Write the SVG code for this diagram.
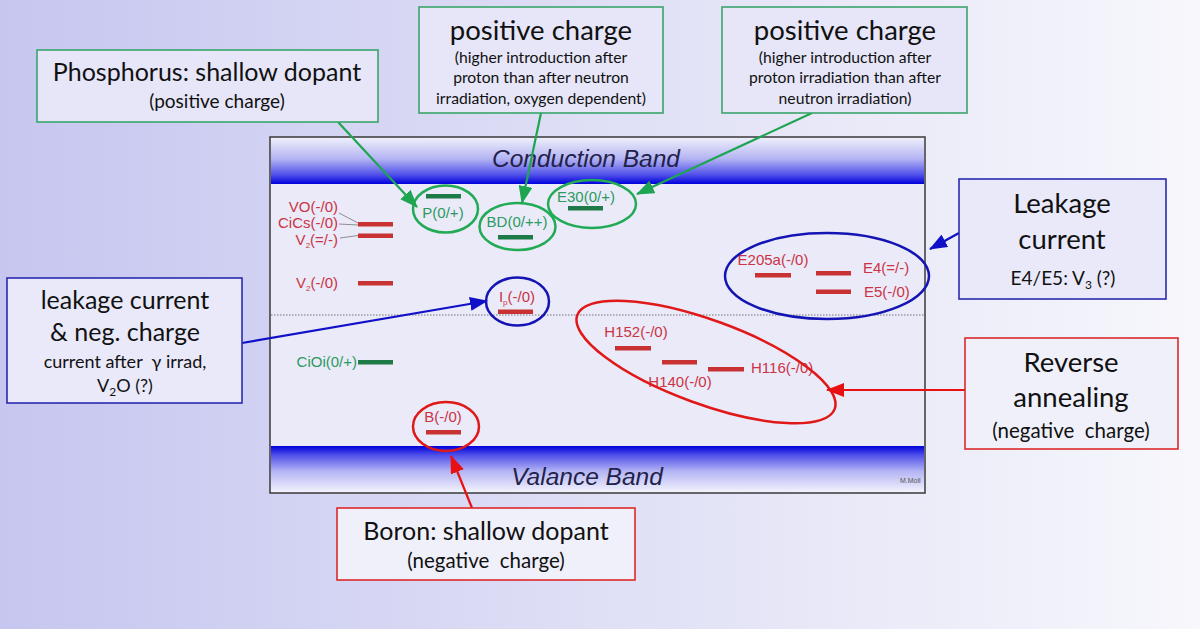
<svg xmlns="http://www.w3.org/2000/svg" width="1200" height="629" viewBox="0 0 1200 629">
<defs>
<linearGradient id="bg" x1="0" y1="0" x2="1" y2="0">
<stop offset="0" stop-color="#c6c6f0"/>
<stop offset="0.6" stop-color="#e4e4f7"/>
<stop offset="1" stop-color="#f7f7fc"/>
</linearGradient>
<linearGradient id="cb" x1="0" y1="0" x2="0" y2="1">
<stop offset="0" stop-color="#eeeefb"/>
<stop offset="0.45" stop-color="#b4b4f4"/>
<stop offset="0.8" stop-color="#5050ea"/>
<stop offset="1" stop-color="#0000dc"/>
</linearGradient>
<linearGradient id="vb" x1="0" y1="0" x2="0" y2="1">
<stop offset="0" stop-color="#0000dc"/>
<stop offset="0.2" stop-color="#5050ea"/>
<stop offset="0.55" stop-color="#b4b4f4"/>
<stop offset="1" stop-color="#f2f2fc"/>
</linearGradient>
<marker id="ag" markerUnits="userSpaceOnUse" markerWidth="18" markerHeight="14" refX="17" refY="7" orient="auto"><path d="M0,0 L18,7 L0,14 Z" fill="#1fa552"/></marker>
<marker id="ab" markerUnits="userSpaceOnUse" markerWidth="18" markerHeight="14" refX="17" refY="7" orient="auto"><path d="M0,0 L18,7 L0,14 Z" fill="#1010c8"/></marker>
<marker id="ar" markerUnits="userSpaceOnUse" markerWidth="18" markerHeight="14" refX="17" refY="7" orient="auto"><path d="M0,0 L18,7 L0,14 Z" fill="#e81010"/></marker>
<style>
.lbl{font-family:"Liberation Sans",Arial,sans-serif;font-size:15px}
.red{fill:#cc3344}
.grn{fill:#2a9a5e}
.rbar{fill:#c83232}
.gbar{fill:#1e7a46}
.box{font-family:Lato,"Open Sans",sans-serif;fill:#111;text-anchor:middle}
.big{font-size:25px}
.mid{font-size:19px}
.sm{font-size:15.7px}
.hd{font-size:27.5px}
.gbox{fill:#e6e6f8;stroke:#3aa66a;stroke-width:1.6}
.bbox{fill:#e9e9f9;stroke:#2a2ab0;stroke-width:1.6}
.rboxs{fill:#f0f0fb;stroke:#dd2a2a;stroke-width:1.6}
.band{font-family:"Liberation Sans",Arial,sans-serif;font-style:italic;font-size:24.5px;fill:#22224a;text-anchor:middle}
.lead{stroke:#666;stroke-width:0.7;fill:none}
</style>
</defs>
<rect x="0" y="0" width="1200" height="629" fill="url(#bg)"/>

<g id="band-diagram">
<rect x="270" y="137" width="655" height="356" fill="#eaeaf9" stroke="#3a3a3a" stroke-width="1.5"/>
<rect x="271" y="138" width="653" height="46" fill="url(#cb)"/>
<text class="band" x="586" y="167">Conduction Band</text>
<rect x="271" y="446" width="653" height="46" fill="url(#vb)"/>
<text class="band" x="587" y="485">Valance Band</text>
<line x1="271" y1="315" x2="924" y2="315" stroke="#555" stroke-width="0.8" stroke-dasharray="1.5,1.5"/>
<text x="900" y="483" font-family="Liberation Sans,Arial,sans-serif" font-size="7" fill="#555">M.Moll</text>
</g>

<g id="level-VO-CiCs-V2">
<rect class="rbar" x="358" y="222" width="35" height="4.5"/>
<rect class="rbar" x="358" y="233.5" width="35" height="4.5"/>
<text class="lbl red" x="338" y="212" text-anchor="end">VO(-/0)</text>
<text class="lbl red" x="338" y="228" text-anchor="end">CiCs(-/0)</text>
<text class="lbl red" x="338" y="245" text-anchor="end">V<tspan font-size="8" dy="3">2</tspan><tspan dy="-3">(=/-)</tspan></text>
<path class="lead" d="M339,213 L358,223"/>
<path class="lead" d="M339,224 L358,225"/>
<path class="lead" d="M340,238 L358,235.5"/>
</g>

<g id="level-V2-0">
<rect class="rbar" x="358" y="281" width="35" height="4.5"/>
<text class="lbl red" x="338" y="288" text-anchor="end">V<tspan font-size="8" dy="3">2</tspan><tspan dy="-3">(-/0)</tspan></text>
</g>

<g id="level-P">
<rect class="gbar" x="426" y="194" width="35" height="4.5"/>
<text class="lbl grn" x="443" y="218" text-anchor="middle">P(0/+)</text>
<ellipse cx="445.5" cy="209" rx="32.5" ry="23.5" fill="none" stroke="#22aa55" stroke-width="2.5"/>
</g>

<g id="level-BD">
<rect class="gbar" x="498" y="235" width="35" height="4.5"/>
<text class="lbl grn" x="517" y="227" text-anchor="middle">BD(0/++)</text>
<ellipse cx="517.5" cy="226.5" rx="38" ry="23.5" fill="none" stroke="#22aa55" stroke-width="2.5"/>
</g>

<g id="level-E30">
<rect class="gbar" x="568" y="206" width="35" height="4.5"/>
<text class="lbl grn" x="586" y="202" text-anchor="middle">E30(0/+)</text>
<ellipse cx="592" cy="204" rx="44" ry="24" fill="none" stroke="#22aa55" stroke-width="2.5"/>
</g>

<g id="level-Ip">
<rect class="rbar" x="498" y="309.5" width="35" height="4.5"/>
<text class="lbl red" x="517" y="302" text-anchor="middle">I<tspan font-size="8" dy="3">p</tspan><tspan dy="-3">(-/0)</tspan></text>
<ellipse cx="517.5" cy="301.5" rx="31.5" ry="24" fill="none" stroke="#1414b4" stroke-width="2.5"/>
</g>

<g id="level-CiOi">
<rect class="gbar" x="358" y="360" width="35" height="4.5"/>
<text class="lbl grn" x="357" y="367" text-anchor="end">CiOi(0/+)</text>
</g>

<g id="level-B">
<rect class="rbar" x="426" y="430" width="35" height="4.5"/>
<text class="lbl red" x="443" y="422" text-anchor="middle">B(-/0)</text>
<ellipse cx="446" cy="426.5" rx="33" ry="24.5" fill="none" stroke="#e01818" stroke-width="2.5"/>
</g>

<g id="level-H">
<rect class="rbar" x="615" y="346" width="36" height="4.5"/>
<rect class="rbar" x="662" y="360" width="35" height="4.5"/>
<rect class="rbar" x="708" y="367" width="36" height="4.5"/>
<text class="lbl red" x="636" y="337" text-anchor="middle">H152(-/0)</text>
<text class="lbl red" x="680" y="387" text-anchor="middle">H140(-/0)</text>
<text class="lbl red" x="751" y="373">H116(-/0)</text>
<ellipse cx="706" cy="362" rx="137" ry="42" transform="rotate(20 706 362)" fill="none" stroke="#e01818" stroke-width="2.5"/>
</g>

<g id="level-E">
<rect class="rbar" x="755" y="273" width="36" height="4.5"/>
<rect class="rbar" x="816" y="271" width="35" height="4.5"/>
<rect class="rbar" x="816" y="289.5" width="35" height="4.5"/>
<text class="lbl red" x="773" y="265" text-anchor="middle">E205a(-/0)</text>
<text class="lbl red" x="863" y="273">E4(=/-)</text>
<text class="lbl red" x="864" y="297">E5(-/0)</text>
<ellipse cx="827" cy="276" rx="102" ry="43" fill="none" stroke="#1414b4" stroke-width="2.5"/>
</g>

<g id="connectors" fill="none" stroke-width="2.2">
<line x1="338" y1="122" x2="417" y2="207" stroke="#1fa552" marker-end="url(#ag)"/>
<line x1="541" y1="113" x2="522" y2="203" stroke="#1fa552" marker-end="url(#ag)"/>
<line x1="812" y1="113" x2="637" y2="194" stroke="#1fa552" marker-end="url(#ag)"/>
<line x1="959" y1="233" x2="930" y2="249" stroke="#1010c8" marker-end="url(#ab)"/>
<line x1="242" y1="343" x2="487" y2="301" stroke="#1010c8" marker-end="url(#ab)"/>
<line x1="965" y1="390" x2="827" y2="390" stroke="#e81010" marker-end="url(#ar)"/>
<line x1="472" y1="508" x2="451" y2="456" stroke="#e81010" marker-end="url(#ar)"/>
</g>

<g id="box-phosphorus">
<rect class="gbox" x="37" y="50" width="341" height="72"/>
<text class="box big" x="207" y="81">Phosphorus: shallow dopant</text>
<text class="box mid" x="217" y="108">(positive charge)</text>
</g>

<g id="box-positive-1">
<rect class="gbox" x="419" y="7" width="244" height="106"/>
<text class="box hd" x="541" y="40">positive charge</text>
<text class="box sm" x="541" y="63">(higher introduction after</text>
<text class="box sm" x="541" y="83">proton than after neutron</text>
<text class="box sm" x="541" y="104">irradiation, oxygen dependent)</text>
</g>

<g id="box-positive-2">
<rect class="gbox" x="722" y="7" width="245" height="106"/>
<text class="box hd" x="845" y="40">positive charge</text>
<text class="box sm" x="845" y="63">(higher introduction after</text>
<text class="box sm" x="845" y="83">proton irradiation than after</text>
<text class="box sm" x="845" y="104">neutron irradiation)</text>
</g>

<g id="box-leakage-right">
<rect class="bbox" x="959" y="179" width="207" height="120"/>
<text class="box hd" x="1062" y="213">Leakage</text>
<text class="box hd" x="1062" y="249">current</text>
<text class="box" font-size="19" x="1063" y="285">E4/E5: V<tspan font-size="12" dy="4">3</tspan><tspan dy="-4"> (?)</tspan></text>
</g>

<g id="box-leakage-left">
<rect class="bbox" x="7" y="278" width="235" height="125"/>
<text class="box big" x="125" y="309">leakage current</text>
<text class="box big" x="125" y="341">&amp; neg. charge</text>
<text class="box" font-size="18" x="125" y="368" xml:space="preserve">current after  γ irrad,</text>
<text class="box" font-size="18" x="125" y="392">V<tspan font-size="12" dy="4">2</tspan><tspan dy="-4">O (?)</tspan></text>
</g>

<g id="box-reverse-annealing">
<rect class="rboxs" x="965" y="338" width="213" height="111"/>
<text class="box hd" x="1071" y="372">Reverse</text>
<text class="box hd" x="1071" y="407">annealing</text>
<text class="box" font-size="20.5" x="1071" y="438" xml:space="preserve">(negative  charge)</text>
</g>

<g id="box-boron">
<rect class="rboxs" x="337" y="508" width="298" height="72"/>
<text class="box big" x="486" y="540">Boron: shallow dopant</text>
<text class="box" font-size="20.5" x="486" y="568" xml:space="preserve">(negative  charge)</text>
</g>
</svg>
